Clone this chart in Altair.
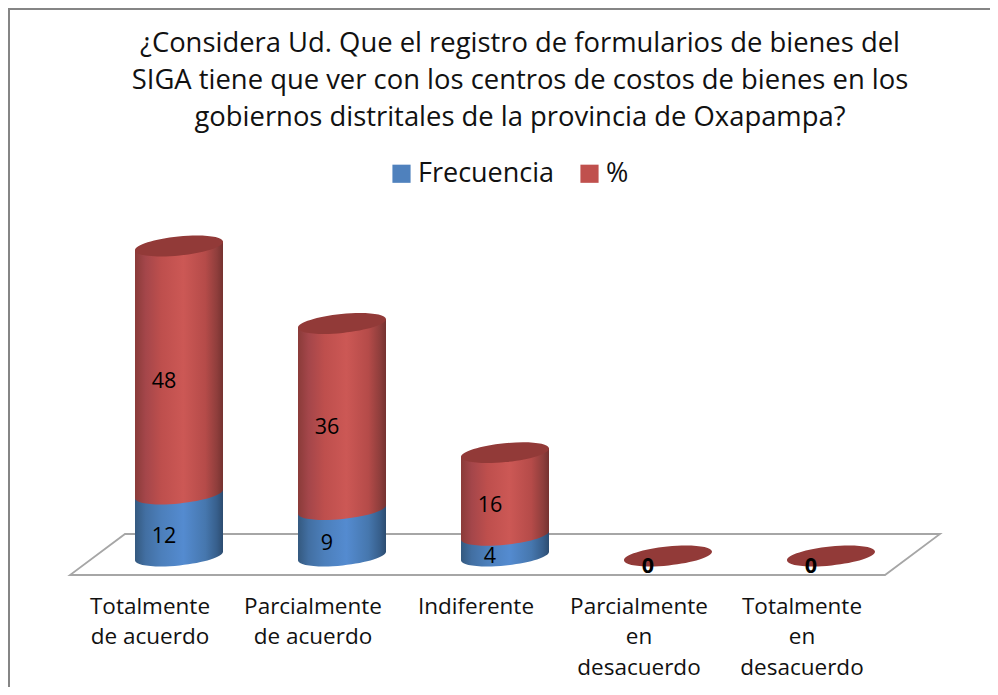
import altair as alt
import pandas as pd

categorias = ["Totalmente\nde acuerdo", "Parcialmente\nde acuerdo", "Indiferente",
              "Parcialmente\nen\ndesacuerdo", "Totalmente\nen\ndesacuerdo"]
frecuencia = [12, 9, 4, 0, 0]
porcentaje = [48, 36, 16, 0, 0]
series = ["Frecuencia", "%"]
titulo = ["¿Considera Ud. Que el registro de formularios de bienes del",
          "SIGA tiene que ver con los centros de costos de bienes en los",
          "gobiernos distritales de la provincia de Oxapampa?"]
FONT = "Open Sans"

rows = []
for c, f, p in zip(categorias, frecuencia, porcentaje):
    rows.append(dict(cat=c, serie=series[0], value=f, y0=0, y1=f))
    rows.append(dict(cat=c, serie=series[1], value=p, y0=f, y1=f + p))
df = pd.DataFrame(rows)
df["mid"] = (df.y0 + df.y1) / 2
inset = 0.85
df["lo"] = df.y0 + inset
df["hi"] = df.y1 - inset
floor_df = pd.DataFrame({"cat": [categorias[2]], "y1": [0]})

def grad(stops):
    return alt.LinearGradient(gradient="linear", x1=0, y1=0, x2=1, y2=0,
                              stops=[alt.GradientStop(offset=o, color=c) for o, c in stops])

GRADS = {
    "Frecuencia": grad([(0, "#34597F"), (0.12, "#426FA2"), (0.3, "#4C7FBB"), (0.55, "#548BD0"),
                        (0.8, "#4677AE"), (0.93, "#375F8C"), (1, "#2C4C70")]),
    "%": grad([(0, "#8A3B39"), (0.12, "#A4464A"), (0.3, "#BE4F4D"), (0.55, "#CC5855"),
               (0.8, "#B54B49"), (0.93, "#8F3E3C"), (1, "#753230")]),
}
CUP = "M-1,0.1 L-1,-0.13 L1,-0.13 L1,-0.1 A1.005,0.215 -5.8 0,1 -1,0.1 Z"
TRI = "M-1,0.1 L1,-0.1 L1,0.13 L-1,0.13 Z"
CAP = "M-1,0.1 A1.005,0.215 -5.8 0,1 1,-0.1 A1.005,0.215 -5.8 0,1 -1,0.1 Z"
FLOOR = "M-1,0.0437 L0.8736,0.0437 L1,-0.0506 L-0.8736,-0.0506 Z"
SIZE = 88 ** 2

x = alt.X("cat:N", sort=categorias, title=None,
          scale=alt.Scale(range=[89.5, 904.5], paddingInner=0.46, paddingOuter=0.23),
          axis=alt.Axis(domain=False, ticks=False, grid=False, labelAngle=0, offset=-92,
                        labelPadding=0, labelOffset=-29, labelFont=FONT, labelFontSize=22.5,
                        labelColor="#111111", labelLineHeight=30.5, labelBaseline="top",
                        labelLimit=300, labelOverlap=False,
                        labelExpr="split(datum.label,'\\n')"))
yscale = alt.Scale(domain=[0, 60], range=[548, 238])
y = alt.Y("y1:Q", scale=yscale, axis=None, title=None)

base = alt.Chart(df)
nz = base.transform_filter("datum.value > 0")

floor = alt.Chart(floor_df).mark_point(shape=FLOOR, size=870 ** 2, filled=False, opacity=1,
                                       stroke="#A6A6A6", strokeWidth=1.8, fill="white").encode(x=x, y=y)

flat = nz.mark_bar(size=88).encode(
    x=x, y=alt.Y("hi:Q", scale=yscale, axis=None, title=None), y2="lo:Q",
    color=alt.Color("serie:N", title=None,
                    scale=alt.Scale(domain=series, range=["#4F81BD", "#C0504D"]),
                    legend=alt.Legend(orient="none", legendX=380, legendY=152, direction="horizontal",
                                      symbolType="square", symbolSize=330, symbolStrokeWidth=0,
                                      labelFont=FONT, labelFontSize=27, labelColor="#111111",
                                      labelOffset=3, columnPadding=21, labelLimit=300)))

layers = [floor, flat]
for s in series:
    seg = nz.transform_filter(alt.datum.serie == s)
    layers.append(seg.mark_bar(size=88, fill=GRADS[s]).encode(
        x=x, y=alt.Y("hi:Q", scale=yscale, axis=None, title=None), y2="lo:Q"))
    base_y = alt.Y("y0:Q", scale=yscale, axis=None, title=None)
    layers.append(seg.mark_point(shape=CUP, size=SIZE, filled=True, opacity=1, fill=GRADS[s],
                                 strokeWidth=0).encode(x=x, y=base_y))
    layers.append(seg.mark_point(shape=TRI, size=SIZE, filled=True, opacity=1, fill=GRADS[s],
                                 strokeWidth=0).encode(x=x, y=y))

cap = base.transform_filter(alt.datum.serie == "%").mark_point(
    shape=CAP, size=SIZE, filled=True, opacity=1, fill="#923A38", strokeWidth=0).encode(x=x, y=y)
layers.append(cap)

ymid = alt.Y("mid:Q", scale=yscale, axis=None, title=None)
layers.append(nz.mark_text(font=FONT, fontSize=21.5, color="#000000", dx=-15, dy=11.5).encode(
    x=x, y=ymid, text="value:Q"))
layers.append(base.transform_filter("datum.value == 0").mark_text(
    font=FONT, fontSize=21.5, color="#000000", dx=-20, dy=11, fontWeight="bold").encode(
    x=x, y=ymid, text="value:Q").transform_filter(alt.datum.serie == "%"))

border_left = alt.Chart(floor_df).mark_rule(color="#858585", strokeWidth=3).encode(
    x=alt.value(0.5), y=alt.value(0), y2=alt.value(679))
border_top = alt.Chart(floor_df).mark_rule(color="#858585", strokeWidth=3).encode(
    y=alt.value(0.5), x=alt.value(0), x2=alt.value(982))
layers += [border_left, border_top]

chart = alt.layer(*layers).properties(
    width=982, height=679, padding=0, autosize=alt.AutoSizeParams(type="none"), background="white",
    title=alt.TitleParams(text=titulo, anchor="middle", align="center", frame="group",
                          font=FONT, fontSize=27.4, fontWeight="normal", color="#111111",
                          lineHeight=37, baseline="top", dx=21, dy=125, offset=0),
).configure_view(stroke=None)

chart.save("out.html", embed_options={"renderer": "svg", "actions": False})
